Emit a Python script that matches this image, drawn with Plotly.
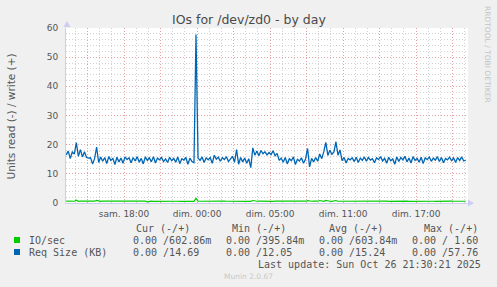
import pandas as pd
import plotly.graph_objects as go

# ---------------- data ----------------
times = pd.date_range("2025-10-25 11:15", periods=198, freq="10min")  # UTC

req_size_kb = [
    16.5, 17.8, 15.2, 17.5, 16.8, 20.7, 16.0, 18.3, 15.8, 17.6,
    15.6, 15.4, 15.5, 13.4, 15.2, 19.2, 13.9, 15.8, 14.3, 15.6,
    13.5, 15.9, 14.6, 15.3, 13.2, 15.7, 14.1, 15.4, 13.6, 15.8,
    14.9, 15.5, 13.8, 15.6, 14.4, 15.9, 14.0, 15.3, 13.4, 15.8,
    14.6, 15.5, 14.1, 15.9, 13.7, 15.4, 14.8, 15.6, 14.2, 15.1,
    13.9, 15.7, 14.5, 15.3, 14.0, 15.8, 13.5, 15.2, 14.7, 15.6,
    13.3, 15.4, 14.2, 13.8, 57.76, 15.4, 14.6, 15.8, 13.9, 15.5,
    14.8, 15.6, 13.6, 16.4, 15.0, 15.7, 14.3, 15.5, 14.9, 15.9,
    14.2, 15.3, 16.0, 14.0, 18.3, 13.3, 15.6, 14.1, 15.4, 13.6,
    15.2, 12.1, 18.9, 16.4, 17.8, 16.2, 18.0, 16.9, 17.6, 16.5,
    17.3, 16.6, 17.9, 16.2, 17.0, 14.6, 15.4, 14.0, 15.6, 13.4,
    15.2, 14.5, 15.8, 13.2, 15.0, 14.4, 15.5, 13.6, 15.1, 18.7,
    12.4, 15.3, 14.1, 15.6, 14.3, 16.8, 15.2, 17.6, 20.8, 16.3,
    18.1, 16.7, 17.5, 21.0, 16.4, 18.2, 14.5, 15.6, 13.7, 15.3,
    14.8, 15.5, 14.2, 15.7, 13.9, 15.4, 14.6, 15.8, 14.3, 15.6,
    14.7, 15.2, 13.8, 15.5, 14.9, 15.9, 14.4, 15.3, 13.6, 15.7,
    14.5, 15.1, 13.3, 15.8, 14.2, 15.6, 14.8, 16.0, 14.1, 15.4,
    13.7, 15.9, 14.6, 15.3, 14.0, 15.7, 13.5, 15.5, 14.9, 15.8,
    14.3, 15.4, 14.7, 15.9, 14.2, 15.6, 13.8, 15.3, 14.8, 15.7,
    14.5, 15.4, 13.9, 15.6, 14.6, 15.8, 14.4, 14.69,
]

io_per_sec = [
    0.62, 0.58, 0.61, 0.63, 0.60, 0.95, 0.59, 0.62, 0.60, 0.61,
    0.58, 0.60, 0.62, 0.59, 0.61, 0.90, 0.60, 0.58, 0.61, 0.62,
    0.60, 0.59, 0.61, 0.60, 0.62, 0.58, 0.60, 0.61, 0.59, 0.62,
    0.60, 0.61, 0.58, 0.60, 0.62, 0.59, 0.61, 0.60, 0.58, 0.61,
    0.40, 0.60, 0.62, 0.59, 0.61, 0.60, 0.58, 0.62, 0.60, 0.61,
    0.59, 0.60, 0.62, 0.58, 0.61, 0.60, 0.59, 0.62, 0.60, 0.61,
    0.58, 0.60, 0.61, 0.59, 1.60, 0.62, 0.60, 0.58, 0.61, 0.60,
    0.62, 0.59, 0.60, 0.61, 0.58, 0.62, 0.60, 0.59, 0.61, 0.60,
    0.58, 0.62, 0.60, 0.61, 0.72, 0.59, 0.60, 0.62, 0.58, 0.61,
    0.60, 0.59, 0.85, 0.61, 0.60, 0.62, 0.58, 0.60, 0.61, 0.59,
    0.62, 0.60, 0.58, 0.61, 0.60, 0.59, 0.62, 0.60, 0.61, 0.58,
    0.60, 0.62, 0.59, 0.61, 0.60, 0.58, 0.62, 0.60, 0.61, 0.80,
    0.59, 0.60, 0.62, 0.58, 0.61, 0.85, 0.60, 0.59, 0.90, 0.61,
    0.60, 0.58, 0.62, 0.85, 0.60, 0.61, 0.59, 0.60, 0.62, 0.58,
    0.61, 0.60, 0.59, 0.62, 0.60, 0.61, 0.58, 0.60, 0.62, 0.59,
    0.61, 0.60, 0.58, 0.62, 0.60, 0.61, 0.59, 0.60, 0.62, 0.58,
    0.61, 0.60, 0.59, 0.62, 0.60, 0.61, 0.58, 0.60, 0.62, 0.59,
    0.61, 0.60, 0.58, 0.62, 0.60, 0.61, 0.59, 0.60, 0.62, 0.58,
    0.61, 0.60, 0.59, 0.62, 0.60, 0.61, 0.58, 0.60, 0.62, 0.59,
    0.61, 0.60, 0.58, 0.62, 0.60, 0.61, 0.59, 0.603,
]

tick_vals = ["2025-10-25 13:00", "2025-10-25 16:00", "2025-10-25 19:00",
             "2025-10-25 22:00", "2025-10-26 01:00", "2025-10-26 04:00",
             "2025-10-26 07:00", "2025-10-26 10:00", "2025-10-26 13:00",
             "2025-10-26 16:00", "2025-10-26 19:00"]
tick_text = ["", "sam. 18:00", "", "dim. 00:00", "", "dim. 05:00",
             "", "dim. 11:00", "", "dim. 17:00", ""]

series_names = ["IO/sec", "Req Size (KB)"]
series_colors = ["#00CC00", "#0066B3"]
col_headers = ["Cur (-/+)", "Min (-/+)", "Avg (-/+)", "Max (-/+)"]
stats = [
    ["0.00 /602.86m", "0.00 /395.84m", "0.00 /603.84m", "0.00 / 1.60"],
    ["0.00 /14.69", "0.00 /12.05", "0.00 /15.24", "0.00 /57.76"],
]

# ---------------- figure ----------------
W, H = 497, 287
L, R, T, B = 66, 468, 28, 203


def PX(px):
    return (px - L) / (R - L)


def PY(py):
    return (B - py) / (B - T)


fig = go.Figure()
fig.add_trace(go.Scatter(x=times, y=io_per_sec, mode="lines",
                         line=dict(color=series_colors[0], width=1.2),
                         hoverinfo="skip"))
fig.add_trace(go.Scatter(x=times, y=req_size_kb, mode="lines",
                         line=dict(color=series_colors[1], width=1.3),
                         hoverinfo="skip"))

major = "#E6A2A2"
minor = "#D2D2D2"
axis_col = "#CDCDF2"
font_txt = "DejaVu Sans"
mono = "DejaVu Sans Mono"
txt_col = "#555555"
dash = "1px,2px"

fig.update_layout(
    width=W, height=H, autosize=False,
    margin=dict(l=L, r=W - R, t=T, b=H - B, pad=0),
    paper_bgcolor="#F0F0F0", plot_bgcolor="#FFFFFF",
    showlegend=False,
    font=dict(family=font_txt, size=9, color=txt_col),
    xaxis=dict(
        type="date",
        range=["2025-10-25 11:14", "2025-10-26 20:16"],
        tickmode="array", tickvals=tick_vals, ticktext=tick_text,
        showgrid=True, gridcolor=major, griddash=dash, gridwidth=1,
        minor=dict(dtick=3600000, tick0="2025-10-25 00:00", showgrid=True,
                   gridcolor=minor, griddash=dash, gridwidth=1),
        showline=True, linecolor=axis_col, linewidth=1,
        ticks="", zeroline=False, ticklabelstandoff=2,
        tickfont=dict(family=font_txt, size=9, color=txt_col),
        fixedrange=True,
    ),
    yaxis=dict(
        range=[0, 60], tickmode="linear", tick0=0, dtick=10,
        showgrid=True, gridcolor=major, griddash=dash, gridwidth=1,
        minor=dict(dtick=2, showgrid=True, gridcolor=minor,
                   griddash=dash, gridwidth=1),
        showline=True, linecolor=axis_col, linewidth=1,
        ticks="", zeroline=False, ticklabelstandoff=5,
        tickfont=dict(family=font_txt, size=9, color=txt_col),
        fixedrange=True,
    ),
)

ann = []
# title
ann.append(dict(text="IOs for /dev/zd0 - by day", x=PX(248.5), y=PY(19),
                xanchor="center", yanchor="middle", showarrow=False,
                font=dict(family=font_txt, size=12.5, color="#4a4a4a")))
# y axis title
ann.append(dict(text="Units read (-) / write (+)", x=PX(10.5), y=PY(116),
                textangle=-90, xanchor="center", yanchor="middle",
                showarrow=False,
                font=dict(family=font_txt, size=10.5, color=txt_col)))
# rrdtool credit
ann.append(dict(text="RRDTOOL / TOBI OETIKER", x=PX(488), y=PY(54),
                textangle=90, xanchor="center", yanchor="middle",
                showarrow=False,
                font=dict(family=font_txt, size=7.5, color="#C4C4C4")))
# legend table headers
for hx, h in zip([134, 230, 327, 422], col_headers):
    ann.append(dict(text=h, x=PX(hx), y=PY(228), xanchor="left",
                    yanchor="middle", showarrow=False,
                    font=dict(family=mono, size=10, color=txt_col)))
row_y = [240, 252]
for r, (name, col) in enumerate(zip(series_names, series_colors)):
    ann.append(dict(text=name, x=PX(26.5), y=PY(row_y[r]), xanchor="left",
                    yanchor="middle", showarrow=False,
                    font=dict(family=mono, size=10, color=txt_col)))
    for cx, s in zip([131, 224, 317, 410], stats[r]):
        ann.append(dict(text=s, x=PX(cx), y=PY(row_y[r]), xanchor="left",
                        yanchor="middle", showarrow=False,
                        font=dict(family=mono, size=10, color=txt_col)))
ann.append(dict(text="Last update: Sun Oct 26 21:30:21 2025", x=PX(483),
                y=PY(264), xanchor="right", yanchor="middle",
                showarrow=False,
                font=dict(family=mono, size=10, color=txt_col)))
ann.append(dict(text="Munin 2.0.67", x=PX(248.5), y=PY(276),
                xanchor="center", yanchor="middle", showarrow=False,
                font=dict(family=font_txt, size=7.5, color="#C8C8C8")))
for a in ann:
    a["xref"] = "paper"
    a["yref"] = "paper"
fig.update_layout(annotations=ann)

shapes = []
for r, col in enumerate(series_colors):
    shapes.append(dict(type="rect", xref="paper", yref="paper",
                       x0=PX(14), x1=PX(20), y0=PY(row_y[r] - 3),
                       y1=PY(row_y[r] + 3),
                       fillcolor=col, line=dict(width=0)))
# axis arrows
shapes.append(dict(type="path", xref="paper", yref="paper",
                   path=f"M {PX(63.5)} {PY(27)} L {PX(70.5)} {PY(27)} L {PX(67)} {PY(21)} Z",
                   fillcolor=axis_col, line=dict(width=0)))
shapes.append(dict(type="path", xref="paper", yref="paper",
                   path=f"M {PX(468)} {PY(199.5)} L {PX(468)} {PY(206.5)} L {PX(474)} {PY(203)} Z",
                   fillcolor=axis_col, line=dict(width=0)))
fig.update_layout(shapes=shapes)

fig.write_html("out.html", config=dict(displayModeBar=False, staticPlot=True))
